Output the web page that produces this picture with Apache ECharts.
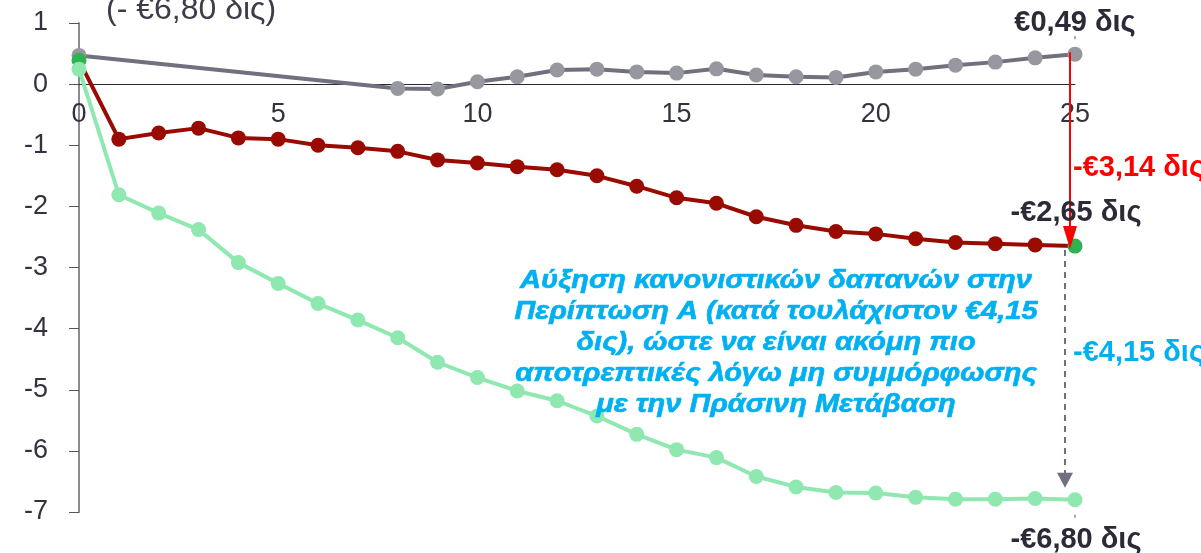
<!DOCTYPE html>
<html>
<head>
<meta charset="utf-8">
<script src="https://cdn.jsdelivr.net/npm/echarts@6/dist/echarts.min.js"></script>
<style>
html,body{margin:0;padding:0;background:#fff;}
#main{width:1201px;height:553px;}
</style>
</head>
<body>
<div id="main"></div>
<script>
// ---- data ----
const years = [0,1,2,3,4,5,6,7,8,9,10,11,12,13,14,15,16,17,18,19,20,21,22,23,24,25];
const grayValues = [0.47,null,null,null,null,null,null,null,-0.07,-0.08,0.04,0.12,0.23,0.245,0.20,0.18,0.25,0.15,0.12,0.11,0.20,0.245,0.31,0.36,0.43,0.49];
const redValues = [0.39,-0.90,-0.80,-0.72,-0.88,-0.90,-1.00,-1.04,-1.10,-1.24,-1.29,-1.35,-1.40,-1.50,-1.67,-1.86,-1.95,-2.17,-2.31,-2.41,-2.45,-2.53,-2.59,-2.61,-2.63,-2.65];
const greenValues = [0.245,-1.81,-2.11,-2.38,-2.92,-3.26,-3.59,-3.86,-4.15,-4.55,-4.80,-5.02,-5.18,-5.43,-5.73,-5.98,-6.11,-6.42,-6.59,-6.68,-6.69,-6.76,-6.79,-6.79,-6.78,-6.80];
const topNote = '(- €6,80 δις)';
const labelGray = '€0,49 δις';
const labelRedDiff = '-€3,14 δις';
const labelRed = '-€2,65 δις';
const labelBlueDiff = '-€4,15 δις';
const labelGreen = '-€6,80 δις';
const noteLines = [
  'Αύξηση κανονιστικών δαπανών στην',
  'Περίπτωση Α (κατά τουλάχιστον €4,15',
  'δις), ώστε να είναι ακόμη πιο',
  'αποτρεπτικές λόγω μη συμμόρφωσης',
  'με την Πράσινη Μετάβαση'
];

const FONT = '"Liberation Sans", Arial, sans-serif';
const toPairs = vals => years.map((x, i) => [x, vals[i]]);

const Y_MIN = -7, Y_MAX = 1;
const GRID = {left: 79, right: 126, top: 23, bottom: 41};
const gridHeight = 553 - GRID.top - GRID.bottom;
const zeroOffset = gridHeight * (0 - Y_MIN) / (Y_MAX - Y_MIN);

const chart = echarts.init(document.getElementById('main'), null, {renderer: 'canvas'});

const redData = toPairs(redValues).map((p, i) => {
  if (i === 0 || i === years.length - 1) {
    return {value: p, itemStyle: {color: '#2db352'}};
  }
  return p;
});

chart.setOption({
  animation: false,
  backgroundColor: '#ffffff',
  grid: Object.assign({containLabel: false}, GRID),
  xAxis: {
    type: 'value', min: 0, max: 25, interval: 5,
    position: 'bottom', offset: -zeroOffset,
    axisLine: {onZero: false, lineStyle: {color: '#2a2a35', width: 1}},
    axisTick: {show: false},
    splitLine: {show: false},
    axisLabel: {color: '#33333f', fontSize: 27, fontFamily: FONT, margin: 17}
  },
  yAxis: {
    type: 'value', min: Y_MIN, max: Y_MAX, interval: 1,
    axisLine: {show: true, onZero: false, lineStyle: {color: '#8a8a92', width: 2}},
    axisTick: {show: true, length: 10, lineStyle: {color: '#55555f', width: 1}},
    splitLine: {show: false},
    axisLabel: {color: '#33333f', fontSize: 27, fontFamily: FONT, margin: 31}
  },
  series: [
    {
      type: 'line', data: toPairs(grayValues), connectNulls: true,
      symbol: 'circle', symbolSize: 15,
      lineStyle: {color: '#70707e', width: 4},
      itemStyle: {color: '#97979f'}, z: 2
    },
    {
      type: 'line', data: redData,
      symbol: 'circle', symbolSize: 15,
      lineStyle: {color: '#990a00', width: 4},
      itemStyle: {color: '#990a00'}, z: 3
    },
    {
      type: 'line', data: toPairs(greenValues),
      symbol: 'circle', symbolSize: 15,
      lineStyle: {color: '#8ee8b0', width: 4},
      itemStyle: {color: '#8ee8b0'}, z: 4
    }
  ]
});

// ---- annotations placed from data coordinates ----
const last = years.length - 1;
const pGray = chart.convertToPixel({gridIndex: 0}, [years[last], grayValues[last]]);
const pRed = chart.convertToPixel({gridIndex: 0}, [years[last], redValues[last]]);
const pGreen = chart.convertToPixel({gridIndex: 0}, [years[last], greenValues[last]]);

const boldText = (x, y, text, color, align) => ({
  type: 'text', x: x, y: y, z: 10,
  style: {text: text, fill: color, fontSize: 29, fontWeight: 'bold', fontFamily: FONT, align: align, verticalAlign: 'middle'}
});

const redX = pGray[0] - 5;
const grayX = pGray[0] - 10;

const elements = [
  // top note
  {type: 'text', x: 106, y: 10, z: 10,
   style: {text: topNote, fill: '#3c3c4a', fontSize: 32, fontFamily: FONT, align: 'left', verticalAlign: 'middle'}},
  // value labels
  boldText(pGray[0], pGray[1] - 31, labelGray, '#2b2b38', 'center'),
  boldText(pRed[0] + 1, pRed[1] - 33, labelRed, '#2b2b38', 'center'),
  boldText(pGreen[0] + 1, pGreen[1] + 40, labelGreen, '#2b2b38', 'center'),
  boldText(redX + 3, (pGray[1] + pRed[1]) / 2 + 18, labelRedDiff, '#ff0000', 'left'),
  boldText(redX + 3, (pRed[1] + pGreen[1]) / 2 - 20, labelBlueDiff, '#00b0f0', 'left'),
  // red arrow
  {type: 'line', z: 9, shape: {x1: redX, y1: pGray[1] - 2, x2: redX, y2: pRed[1] - 14},
   style: {stroke: '#ff0000', lineWidth: 2}},
  {type: 'polygon', z: 9, shape: {points: [[redX - 7, pRed[1] - 20], [redX + 7, pRed[1] - 20], [redX, pRed[1] + 3]]},
   style: {fill: '#ff0000'}},
  // gray dashed arrow
  {type: 'line', z: 9, shape: {x1: grayX, y1: pRed[1] + 4, x2: grayX, y2: pGreen[1] - 26},
   style: {stroke: '#70707e', lineWidth: 2, lineDash: [6, 5]}},
  {type: 'polygon', z: 9, shape: {points: [[grayX - 8, pGreen[1] - 27], [grayX + 8, pGreen[1] - 27], [grayX, pGreen[1] - 12]]},
   style: {fill: '#70707e'}},
  // tiny leader marks
  {type: 'line', z: 9, shape: {x1: pGray[0], y1: pGray[1] - 18, x2: pGray[0], y2: pGray[1] - 15}, style: {stroke: '#55555f', lineWidth: 1}},
  {type: 'line', z: 9, shape: {x1: pRed[0], y1: pRed[1] - 18, x2: pRed[0], y2: pRed[1] - 15}, style: {stroke: '#55555f', lineWidth: 1}},
  {type: 'line', z: 9, shape: {x1: pGreen[0], y1: pGreen[1] + 15, x2: pGreen[0], y2: pGreen[1] + 18}, style: {stroke: '#55555f', lineWidth: 1}}
];

// blue explanatory paragraph
noteLines.forEach((line, i) => {
  elements.push({
    type: 'text', x: 776, y: 281 + i * 31, z: 10, scaleX: 1.16,
    style: {text: line, fill: '#00b0f0', fontSize: 25, fontStyle: 'italic', fontWeight: 'bold',
            fontFamily: FONT, align: 'center', verticalAlign: 'middle',
            stroke: '#00b0f0', lineWidth: 0.6}
  });
});

chart.setOption({graphic: {elements: elements}});
</script>
</body>
</html>
